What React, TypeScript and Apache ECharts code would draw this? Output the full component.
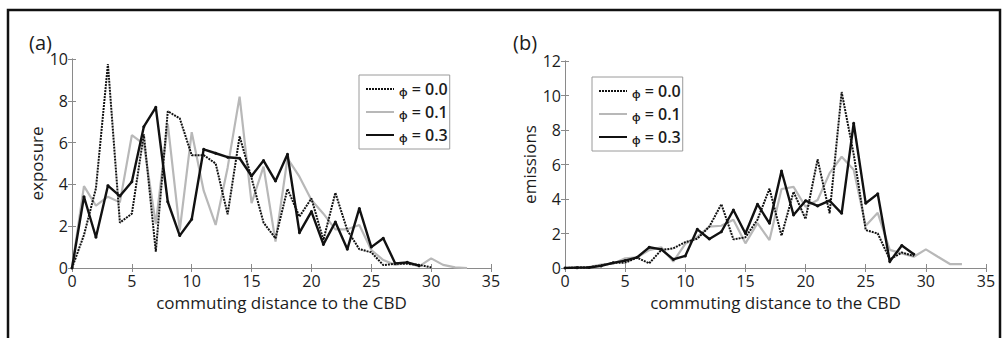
import React, { useEffect, useRef } from "react";
import * as echarts from "echarts";

// Panel (a): exposure vs commuting distance (x = 0,1,2,...)
const expPhi00 = [0, 1.58, 3.81, 9.76, 2.17, 2.6, 6.4, 0.78, 7.5, 7.16, 5.4, 5.4, 5.0, 2.57, 6.3, 4.3, 2.17, 1.42, 3.78, 2.46, 3.33, 1.34, 3.6, 1.8, 0.9, 0.75, 0.14, 0.2, 0.2, 0.15, 0.03];
const expPhi01 = [0, 3.92, 2.98, 3.41, 3.14, 6.36, 5.93, 2.1, 6.9, 1.8, 6.5, 3.7, 2.06, 4.8, 8.2, 3.1, 4.85, 1.26, 5.25, 4.37, 3.25, 2.6, 1.85, 1.85, 2.06, 0.86, 0.38, 0.15, 0.25, 0.08, 0.46, 0.15, 0.03, 0.0];
const expPhi03 = [0, 3.41, 1.47, 3.94, 3.44, 4.13, 6.76, 7.69, 3.17, 1.55, 2.33, 5.68, 5.49, 5.3, 5.25, 4.4, 5.14, 4.16, 5.44, 1.69, 2.7, 1.13, 2.2, 0.9, 2.85, 1.0, 1.42, 0.22, 0.27, 0.11];

// Panel (b): emissions vs commuting distance
const emiPhi00 = [0, 0.02, 0.04, 0.15, 0.3, 0.31, 0.6, 0.27, 1.04, 1.14, 1.5, 1.7, 2.4, 3.7, 1.66, 1.78, 2.8, 4.6, 1.87, 4.42, 2.84, 6.3, 3.17, 10.2, 6.6, 2.2, 2.0, 0.5, 0.9, 0.7];
const emiPhi01 = [0, 0.02, 0.05, 0.2, 0.25, 0.56, 0.62, 1.04, 1.2, 0.37, 1.4, 1.8, 2.4, 2.45, 2.8, 1.43, 2.6, 1.62, 4.58, 4.7, 3.55, 3.94, 5.5, 6.45, 5.7, 2.45, 3.2, 1.05, 0.85, 0.65, 1.08, 0.65, 0.23, 0.23];
const emiPhi03 = [0, 0.02, 0.03, 0.12, 0.3, 0.43, 0.62, 1.2, 1.08, 0.5, 0.7, 2.24, 1.68, 2.1, 3.36, 2.0, 3.7, 2.59, 5.62, 3.07, 3.9, 3.6, 3.9, 3.17, 8.39, 3.75, 4.3, 0.37, 1.3, 0.8];

const seriesNames = ["ϕ = 0.0", "ϕ = 0.1", "ϕ = 0.3"];
const xTicks = { min: 0, max: 35, interval: 5 };
const yTicksA = { min: 0, max: 10, interval: 2 };
const yTicksB = { min: 0, max: 12, interval: 2 };

const FONT = "'Open Sans', 'Noto Sans', sans-serif";
const AXIS_GRAY = "#8a8a8a";
const TEXT = "#1c1c1c";

const toPairs = (arr: number[]) => arr.map((v, i) => [i, v]);

export default function App() {
  const ref = useRef<HTMLDivElement>(null);
  useEffect(() => {
    if (!ref.current) return;
    const chart = echarts.init(ref.current, null, { renderer: "svg" });

    const styles = [
      { color: "#111", width: 2, type: [2, 1] as any, symbol: "none", symbolSize: 0 },
      { color: "#b8b8b8", width: 2.2, type: "solid" as any, symbol: "none", symbolSize: 0 },
      { color: "#111", width: 2.4, type: "solid" as any, symbol: "circle", symbolSize: 3 },
    ];

    const mkSeries = (arr: number[], i: number, grid: number) => ({
      type: "line",
      name: seriesNames[i],
      xAxisIndex: grid,
      yAxisIndex: grid,
      data: toPairs(arr),
      symbol: styles[i].symbol,
      symbolSize: styles[i].symbolSize,
      showSymbol: styles[i].symbol !== "none",
      itemStyle: { color: styles[i].color },
      lineStyle: { color: styles[i].color, width: styles[i].width, type: styles[i].type },
      z: i === 1 ? 1 : i === 0 ? 2 : 3,
    });

    const mainX = (grid: number) => ({
      type: "value",
      gridIndex: grid,
      ...xTicks,
      name: "commuting distance to the CBD",
      nameLocation: "middle",
      nameGap: 23,
      nameTextStyle: { fontFamily: FONT, fontSize: 17, fontWeight: 500, color: TEXT },
      axisLine: { show: true, lineStyle: { color: AXIS_GRAY, width: 1 } },
      axisTick: { show: true, inside: true, length: 4, lineStyle: { color: AXIS_GRAY } },
      axisLabel: { fontFamily: FONT, fontSize: 16, fontWeight: 500, color: TEXT, margin: 5 },
      splitLine: { show: false },
    });
    const mirrorX = (grid: number) => ({
      type: "value",
      gridIndex: grid,
      position: "top",
      ...xTicks,
      axisLine: { show: true, lineStyle: { color: AXIS_GRAY, width: 1 } },
      axisTick: { show: true, inside: true, length: 4, lineStyle: { color: AXIS_GRAY } },
      axisLabel: { show: false },
      splitLine: { show: false },
    });
    const mainY = (grid: number, ticks: any, name: string) => ({
      type: "value",
      gridIndex: grid,
      ...ticks,
      name,
      nameLocation: "middle",
      nameGap: 27,
      nameTextStyle: { fontFamily: FONT, fontSize: 17, fontWeight: 500, color: TEXT },
      axisLine: { show: true, lineStyle: { color: AXIS_GRAY, width: 1 } },
      axisTick: { show: true, inside: true, length: 4, lineStyle: { color: AXIS_GRAY } },
      axisLabel: { fontFamily: FONT, fontSize: 16, fontWeight: 500, color: TEXT, margin: 4 },
      splitLine: { show: false },
    });
    const mirrorY = (grid: number, ticks: any) => ({
      type: "value",
      gridIndex: grid,
      position: "right",
      ...ticks,
      axisLine: { show: true, lineStyle: { color: AXIS_GRAY, width: 1 } },
      axisTick: { show: true, inside: true, length: 4, lineStyle: { color: AXIS_GRAY } },
      axisLabel: { show: false },
      splitLine: { show: false },
    });

    const legend = (left: number, top: number) => ({
      orient: "vertical",
      left,
      top,
      data: seriesNames.map((n) => ({ name: n, itemStyle: { opacity: 0 } })),
      itemWidth: 28,
      itemHeight: 16,
      itemGap: 7,
      padding: [6, 2, 6, 6],
      borderColor: "#9a9a9a",
      borderWidth: 1,
      backgroundColor: "#fff",
      selectedMode: false,
      formatter: (name: string) => `{p|ϕ} ${name.slice(2)}`,
      textStyle: {
        fontFamily: FONT,
        fontSize: 16,
        fontWeight: 600,
        color: TEXT,
        rich: { p: { fontFamily: FONT, fontSize: 11, color: TEXT, padding: [4, 0, 0, 0] } },
      },
    });

    chart.setOption({
      animation: false,
      backgroundColor: "#fff",
      title: [
        { text: "(a)", left: 29, top: 32, padding: 0, textStyle: { fontFamily: FONT, fontSize: 20, fontWeight: "normal", color: TEXT } },
        { text: "(b)", left: 513, top: 32, padding: 0, textStyle: { fontFamily: FONT, fontSize: 20, fontWeight: "normal", color: TEXT } },
      ],
      grid: [
        { left: 72, top: 59, width: 419, height: 209 },
        { left: 565, top: 61, width: 421, height: 207 },
      ],
      xAxis: [mainX(0), mainX(1), mirrorX(0), mirrorX(1)],
      yAxis: [
        mainY(0, yTicksA, "exposure"),
        mainY(1, yTicksB, "emissions"),
        mirrorY(0, yTicksA),
        mirrorY(1, yTicksB),
      ],
      legend: [legend(359, 75), legend(592, 77)],
      series: [
        mkSeries(expPhi01, 1, 0),
        mkSeries(expPhi00, 0, 0),
        mkSeries(expPhi03, 2, 0),
        mkSeries(emiPhi01, 1, 1),
        mkSeries(emiPhi00, 0, 1),
        mkSeries(emiPhi03, 2, 1),
      ],
      graphic: [
        {
          type: "rect",
          silent: true,
          shape: { x: 8, y: 10, width: 992, height: 400 },
          style: { fill: "none", stroke: "#111", lineWidth: 2.5 },
        },
      ],
    });
    return () => chart.dispose();
  }, []);
  return <div ref={ref} style={{ position: "absolute", left: 0, top: 0, width: 1008, height: 338 }} />;
}
